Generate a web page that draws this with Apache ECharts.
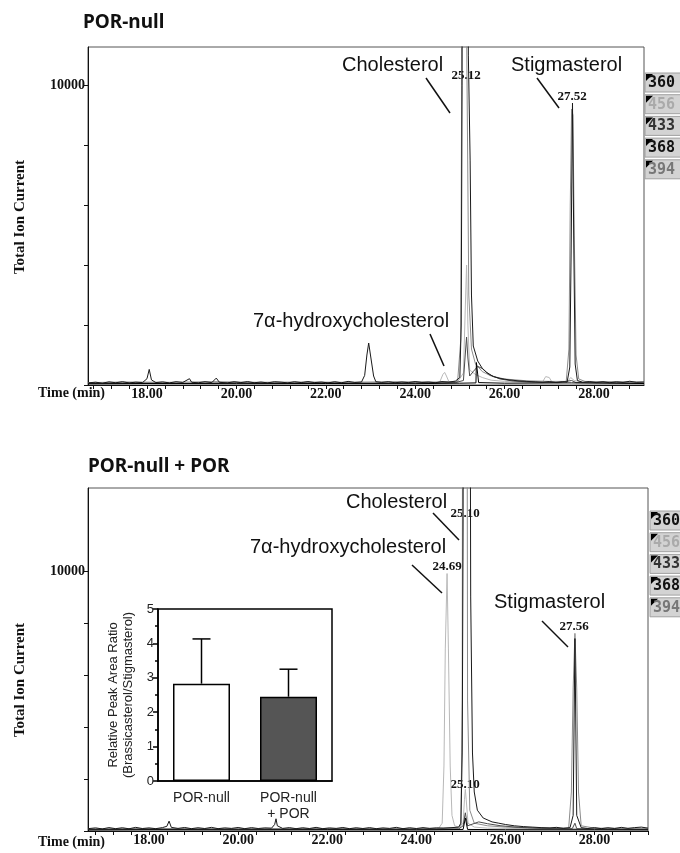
<!DOCTYPE html>
<html>
<head>
<meta charset="utf-8">
<script src="https://cdn.jsdelivr.net/npm/echarts@6/dist/echarts.min.js"></script>
<style>
html, body { margin: 0; padding: 0; background: #fff; }
#main { width: 680px; height: 853px; }
</style>
</head>
<body>
<div id="main"></div>
<script>
// ion channels shown in the side boxes
const ions = ['360', '456', '433', '368', '394'];
const ionTextColors = ['#111', '#aaa', '#333', '#111', '#777'];

const xLabelTicks = [18, 20, 22, 24, 26, 28];
const yTicks = [0, 2000, 4000, 6000, 8000, 10000];
const yLabelTicks = [10000];

// POR-null chromatogram traces [time (min), total ion current]
const top360 = [[16.68,70],[16.85,95],[17.0,60],[17.15,105],[17.3,75],[17.45,110],[17.6,70],[17.75,95],[17.9,80],[18.0,210],[18.05,520],[18.1,170],[18.2,80],[18.35,105],[18.5,70],[18.65,110],[18.8,85],[18.95,210],[19.0,90],[19.15,75],[19.3,110],[19.45,80],[19.55,230],[19.62,90],[19.8,70],[19.95,110],[20.1,80],[20.25,115],[20.4,75],[20.55,100],[20.7,70],[20.85,110],[21.0,95],[21.15,70],[21.3,110],[21.45,80],[21.6,115],[21.75,80],[21.9,100],[22.05,70],[22.2,110],[22.35,75],[22.5,120],[22.65,85],[22.8,100],[22.87,320],[22.92,1000],[22.96,1400],[23.01,900],[23.07,300],[23.12,110],[23.25,85],[23.4,110],[23.55,75],[23.7,100],[23.85,80],[24.0,115],[24.15,85],[24.3,100],[24.45,75],[24.6,115],[24.75,95],[24.9,130],[25.0,250],[25.03,2000],[25.05,10000],[25.07,40000],[25.14,40000],[25.19,11000],[25.23,7500],[25.26,3000],[25.3,1300],[25.4,800],[25.5,560],[25.6,420],[25.75,280],[25.9,220],[26.1,170],[26.3,140],[26.5,120],[26.7,105],[26.85,90],[27.0,115],[27.15,85],[27.3,110],[27.4,100],[27.46,600],[27.49,4500],[27.52,9400],[27.55,4500],[27.58,700],[27.63,150],[27.75,90],[27.9,115],[28.05,80],[28.2,110],[28.35,75],[28.5,105],[28.65,85],[28.8,125],[28.95,90],[29.12,100]];
const top456 = [[16.68,60],[17.5,80],[18.5,60],[19.5,90],[20.5,70],[21.5,80],[22.5,60],[23.5,80],[24.4,70],[24.55,100],[24.62,350],[24.66,420],[24.7,300],[24.76,90],[24.95,100],[25.08,400],[25.12,2500],[25.15,4000],[25.18,2000],[25.22,500],[25.35,350],[25.5,250],[25.7,160],[26.0,120],[26.5,90],[26.85,100],[26.92,280],[26.96,320],[27.0,250],[27.06,100],[27.4,90],[27.48,250],[27.52,300],[27.56,150],[27.8,80],[28.5,90],[29.12,70]];
const top433 = [[16.68,50],[18,60],[19,50],[20,70],[21,60],[22,70],[23,60],[24,70],[24.9,80],[25.08,150],[25.12,1000],[25.15,1600],[25.18,900],[25.22,300],[25.3,450],[25.4,620],[25.5,550],[25.65,350],[25.9,200],[26.2,130],[26.6,100],[27.2,80],[27.5,150],[27.6,80],[28.5,70],[29.12,60]];
const top368 = [[16.68,40],[18,50],[20,45],[22,50],[24,45],[25.0,60],[25.36,70],[25.37,750],[25.41,750],[25.42,80],[26,60],[27.5,70],[29.12,50]];
const top394 = [[16.68,80],[17.5,100],[18.5,90],[19.5,110],[20.5,90],[21.5,100],[22.5,90],[23.5,110],[24.5,100],[24.95,120],[25.02,1500],[25.04,10000],[25.06,40000],[25.12,40000],[25.15,12000],[25.2,3000],[25.26,1200],[25.35,700],[25.5,450],[25.7,300],[26.0,200],[26.5,140],[27.0,120],[27.38,120],[27.44,1200],[27.47,6000],[27.50,9200],[27.53,9000],[27.56,5000],[27.6,1000],[27.66,200],[27.8,120],[28.5,110],[29.12,100]];

// POR-null + POR chromatogram traces
const bot360 = [[16.63,90],[16.8,120],[16.95,80],[17.1,130],[17.25,90],[17.4,125],[17.55,85],[17.7,140],[17.85,95],[18.0,120],[18.15,90],[18.3,130],[18.4,180],[18.45,380],[18.5,140],[18.65,100],[18.8,135],[18.95,90],[19.1,125],[19.25,95],[19.4,140],[19.55,90],[19.7,120],[19.85,100],[20.0,135],[20.15,90],[20.3,130],[20.45,95],[20.6,120],[20.75,110],[20.82,250],[20.85,470],[20.88,200],[21.0,100],[21.15,130],[21.3,90],[21.45,125],[21.6,95],[21.75,140],[21.9,90],[22.05,120],[22.2,100],[22.35,135],[22.5,90],[22.65,125],[22.8,95],[22.95,130],[23.1,90],[23.25,120],[23.4,100],[23.55,140],[23.7,90],[23.85,125],[24.0,95],[24.15,130],[24.3,100],[24.45,120],[24.6,110],[24.8,130],[24.95,150],[25.0,300],[25.03,3000],[25.05,12000],[25.07,40000],[25.18,40000],[25.22,9000],[25.26,3000],[25.3,1500],[25.37,800],[25.5,500],[25.7,350],[25.85,300],[26.0,250],[26.2,200],[26.4,170],[26.6,150],[26.8,130],[27.0,120],[27.15,140],[27.3,100],[27.45,130],[27.52,600],[27.56,7400],[27.6,600],[27.7,130],[27.85,95],[28.0,130],[28.15,90],[28.3,125],[28.45,95],[28.6,140],[28.75,100],[28.9,130],[29.05,150],[29.2,110]];
const bot456 = [[16.63,70],[18,80],[19,70],[20,85],[21,75],[22,80],[23,70],[24,85],[24.5,100],[24.58,300],[24.62,2500],[24.65,7000],[24.69,9900],[24.72,7000],[24.76,2500],[24.8,600],[24.86,200],[24.95,150],[25.05,300],[25.08,1200],[25.10,1600],[25.12,1200],[25.16,300],[25.3,150],[25.6,110],[26.5,90],[27.5,100],[28.5,80],[29.2,70]];
const bot394 = [[16.63,80],[18,90],[20,85],[22,95],[24,90],[24.95,120],[25.0,200],[25.03,5000],[25.05,40000],[25.12,40000],[25.15,5000],[25.2,800],[25.3,300],[25.6,200],[26.0,150],[26.5,120],[27.0,110],[27.42,120],[27.48,1500],[27.52,5500],[27.56,7600],[27.6,5500],[27.64,1500],[27.7,200],[28.0,110],[29.2,100]];
const bot433 = [[16.63,60],[18,70],[20,65],[22,70],[24,65],[24.95,80],[25.05,200],[25.1,700],[25.15,200],[25.4,350],[25.6,280],[25.9,200],[26.3,140],[26.8,100],[27.5,90],[27.56,300],[27.6,90],[28.5,70],[29.2,60]];
const bot368 = [[16.63,40],[18,50],[20,45],[22,50],[24,45],[25.05,60],[25.1,500],[25.15,60],[26,50],[28,50],[29.2,45]];

// inset bar chart
const barCats = ['POR-null', 'POR-null\n+ POR'];
const barMeans = [2.83, 2.45];
const barErrTop = [4.13, 3.25];
const barColors = ['#ffffff', '#555555'];

const serifBold = 'Liberation Serif';
const sans = 'Liberation Sans';

let minorTicks = [];
for (let t = 16.8; t <= 29.21; t += 0.4) minorTicks.push(Math.round(t * 10) / 10);

function timeAxis(grid, min, max) {
  return {
    type: 'value', gridIndex: grid, min: min, max: max,
    axisLine: { show: true, onZero: false, lineStyle: { color: '#111', width: 1 } },
    axisTick: { show: true, length: 4, customValues: minorTicks, lineStyle: { color: '#111' } },
    axisLabel: {
      customValues: xLabelTicks, margin: 2, color: '#111',
      fontFamily: serifBold, fontWeight: 'bold', fontSize: 14,
      formatter: v => v.toFixed(2)
    },
    splitLine: { show: false }
  };
}

function ticAxis(grid, max) {
  return {
    type: 'value', gridIndex: grid, min: 0, max: max,
    axisLine: { show: true, lineStyle: { color: '#111', width: 1 } },
    axisTick: { show: true, length: 4, customValues: yTicks, lineStyle: { color: '#111' } },
    axisLabel: {
      customValues: yLabelTicks, margin: 3, color: '#111',
      fontFamily: serifBold, fontWeight: 'bold', fontSize: 14,
      formatter: v => String(v)
    },
    splitLine: { show: false }
  };
}

const series = [];
function addTrace(data, color, grid) {
  series.push({
    type: 'line', xAxisIndex: grid, yAxisIndex: grid, data: data,
    showSymbol: false, symbol: 'none', clip: true, silent: true,
    lineStyle: { color: color, width: 1 }
  });
}
addTrace(top456, '#b8b8b8', 0);
addTrace(top394, '#8c8c8c', 0);
addTrace(top433, '#4a4a4a', 0);
addTrace(top368, '#000000', 0);
addTrace(top360, '#1a1a1a', 0);
addTrace(bot456, '#b8b8b8', 1);
addTrace(bot394, '#8c8c8c', 1);
addTrace(bot433, '#4a4a4a', 1);
addTrace(bot368, '#000000', 1);
addTrace(bot360, '#1a1a1a', 1);

series.push({
  type: 'bar', xAxisIndex: 2, yAxisIndex: 2, barWidth: 57,
  data: barMeans.map((v, i) => ({
    value: v,
    itemStyle: { color: barColors[i], borderColor: '#000', borderWidth: 1.5 }
  }))
});
series.push({
  type: 'custom', xAxisIndex: 2, yAxisIndex: 2, z: 5,
  data: barMeans.map((v, i) => [i, v, barErrTop[i]]),
  encode: { x: 0, y: [1, 2] },
  renderItem: function (params, api) {
    const lo = api.coord([api.value(0), api.value(1)]);
    const hi = api.coord([api.value(0), api.value(2)]);
    const st = { stroke: '#000', lineWidth: 1.5 };
    return {
      type: 'group',
      children: [
        { type: 'line', shape: { x1: lo[0], y1: lo[1], x2: hi[0], y2: hi[1] }, style: st },
        { type: 'line', shape: { x1: hi[0] - 9, y1: hi[1], x2: hi[0] + 9, y2: hi[1] }, style: st }
      ]
    };
  }
});

// annotations and side boxes
const graphic = [];
function txt(text, x, y, font, opts) {
  graphic.push({
    type: 'text', x: x, y: y,
    style: Object.assign({ text: text, font: font, fill: '#111', verticalAlign: 'middle' }, opts || {})
  });
}
function seg(x1, y1, x2, y2) {
  graphic.push({ type: 'line', shape: { x1, y1, x2, y2 }, style: { stroke: '#111', lineWidth: 1.5 } });
}
function ionBoxes(left, top, step) {
  ions.forEach((ion, i) => {
    const y = top + i * step;
    graphic.push({ type: 'rect', shape: { x: left, y: y, width: 36, height: 19 },
      style: { fill: '#d3d3d3', stroke: '#a0a0a0', lineWidth: 1 } });
    graphic.push({ type: 'polygon', shape: { points: [[left + 1, y + 1], [left + 8, y + 1], [left + 1, y + 8]] },
      style: { fill: '#000' } });
    graphic.push({ type: 'text', x: left + 3, y: y + 10,
      style: { text: ion, font: 'bold 15px "DejaVu Sans Mono"', fill: ionTextColors[i], verticalAlign: 'middle' } });
  });
}

const titleFont = 'bold 19px "Noto Sans"';
const nameFont = '20px "Liberation Sans"';
const rtFont = 'bold 13px "Liberation Serif"';
const axFont = 'bold 14px "Liberation Serif"';
const ticFont = 'bold 15px "Liberation Serif"';

txt('POR-null', 83, 23, titleFont);
txt('POR-null + POR', 88, 467, titleFont);

graphic.push({ type: 'text', x: 20, y: 217, rotation: Math.PI / 2,
  style: { text: 'Total Ion Current', font: ticFont, fill: '#111', align: 'center', verticalAlign: 'middle' } });
graphic.push({ type: 'text', x: 20, y: 680, rotation: Math.PI / 2,
  style: { text: 'Total Ion Current', font: ticFont, fill: '#111', align: 'center', verticalAlign: 'middle' } });
txt('Time (min)', 38, 393, axFont);
txt('Time (min)', 38, 842, axFont);

// top panel labels
txt('Cholesterol', 342, 65, nameFont);
seg(426, 78, 450, 113);
txt('25.12', 466, 76, rtFont, { align: 'center' });
txt('Stigmasterol', 511, 65, nameFont);
seg(537, 78, 559, 108);
txt('27.52', 572, 97, rtFont, { align: 'center' });
txt('7\u03b1-hydroxycholesterol', 253, 321, nameFont);
seg(430, 334, 444, 366);

// bottom panel labels
txt('Cholesterol', 346, 502, nameFont);
seg(433, 513, 459, 540);
txt('25.10', 465, 514, rtFont, { align: 'center' });
txt('7\u03b1-hydroxycholesterol', 250, 547, nameFont);
seg(412, 565, 442, 593);
txt('24.69', 447, 567, rtFont, { align: 'center' });
txt('Stigmasterol', 494, 602, nameFont);
seg(542, 621, 568, 647);
txt('27.56', 574, 627, rtFont, { align: 'center' });
txt('25.10', 465, 785, rtFont, { align: 'center' });

ionBoxes(645, 73, 21.7);
ionBoxes(650, 511, 21.7);

const chart = echarts.init(document.getElementById('main'));
chart.setOption({
  animation: false,
  backgroundColor: '#fff',
  grid: [
    { left: 88, top: 47, width: 556, height: 338, show: true, borderColor: '#555', borderWidth: 1 },
    { left: 88, top: 488, width: 560, height: 343, show: true, borderColor: '#555', borderWidth: 1 },
    { left: 158, top: 609, width: 174, height: 172, show: true, borderColor: '#000', borderWidth: 1.5, backgroundColor: '#fff' }
  ],
  xAxis: [
    timeAxis(0, 16.68, 29.12),
    timeAxis(1, 16.63, 29.2),
    {
      type: 'category', gridIndex: 2, data: barCats,
      axisLine: { lineStyle: { color: '#000', width: 1.5 } },
      axisTick: { alignWithLabel: true, length: 5, lineStyle: { color: '#000', width: 1.5 } },
      axisLabel: { fontFamily: sans, fontSize: 14, color: '#222', margin: 9, lineHeight: 16 }
    }
  ],
  yAxis: [
    ticAxis(0, 11270),
    ticAxis(1, 13190),
    {
      type: 'value', gridIndex: 2, min: 0, max: 5, interval: 1,
      name: 'Relative Peak Area Ratio\n(Brassicasterol/Stigmasterol)',
      nameLocation: 'middle', nameRotate: 90, nameGap: 22,
      nameTextStyle: { fontFamily: sans, fontSize: 13, color: '#222', lineHeight: 15 },
      axisLine: { show: true, lineStyle: { color: '#000', width: 1.5 } },
      axisTick: { show: true, length: 5, lineStyle: { color: '#000', width: 1.5 } },
      minorTick: { show: true, splitNumber: 2, length: 3, lineStyle: { color: '#000', width: 1.5 } },
      axisLabel: { fontFamily: sans, fontSize: 13, color: '#222', margin: 4 },
      splitLine: { show: false }
    }
  ],
  series: series,
  graphic: graphic
});
</script>
</body>
</html>
